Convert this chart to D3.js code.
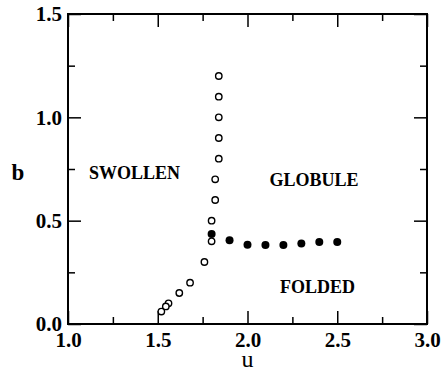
<!DOCTYPE html>
<html>
<head>
<meta charset="utf-8">
<script src="https://cdn.jsdelivr.net/npm/d3@7"></script>
<style>
  body { margin: 0; background: #fff; }
  svg { display: block; }
  text { font-family: "Liberation Serif", "Times New Roman", serif; }
</style>
</head>
<body>
<script>
// open circles: swollen/globule boundary
const openU = [1.84, 1.84, 1.84, 1.84, 1.84, 1.82, 1.82, 1.80, 1.80, 1.76, 1.68, 1.62, 1.56, 1.545, 1.52];
const openB = [1.2, 1.1, 1.0, 0.9, 0.8, 0.7, 0.6, 0.5, 0.4, 0.3, 0.2, 0.15, 0.1, 0.085, 0.06];
// filled circles: globule/folded boundary
const fillU = [1.80, 1.90, 2.00, 2.10, 2.20, 2.30, 2.40, 2.50];
const fillB = [0.435, 0.405, 0.383, 0.382, 0.382, 0.39, 0.397, 0.397];

const xTicks = [1.0, 1.5, 2.0, 2.5, 3.0];
const xMinor = [1.25, 1.75, 2.25, 2.75];
const yTicks = [0.0, 0.5, 1.0, 1.5];
const yMinor = [0.25, 0.75, 1.25];

const regionLabels = ["SWOLLEN", "GLOBULE", "FOLDED"];
const regionU = [1.37, 2.37, 2.39];
const regionB = [0.70, 0.67, 0.152];

const w = 443, h = 372;
const margin = {top: 14, right: 16, bottom: 48, left: 68};
const iw = w - margin.left - margin.right,
      ih = h - margin.top - margin.bottom;

const svg = d3.select("body").append("svg")
  .attr("width", w)
  .attr("height", h);

const x = d3.scaleLinear().domain([1, 3]).range([0, iw]);
const y = d3.scaleLinear().domain([0, 1.5]).range([ih, 0]);

const g = svg.append("g")
  .attr("transform", "translate(" + margin.left + "," + margin.top + ")");

const fmt = d3.format(".1f");

function styleAxis(sel) {
  sel.select(".domain").remove();
  sel.selectAll(".tick line").attr("stroke", "#000").attr("stroke-width", 1.5);
  sel.selectAll(".tick text")
    .attr("fill", "#000")
    .style("font-size", "21px")
    .style("font-weight", "bold");
}

// major ticks with labels
g.append("g").attr("transform", "translate(0," + ih + ")")
  .call(d3.axisBottom(x).tickValues(xTicks).tickSize(-13).tickPadding(8).tickFormat(fmt))
  .call(styleAxis);
g.append("g")
  .call(d3.axisLeft(y).tickValues(yTicks).tickSize(-13).tickPadding(6).tickFormat(fmt))
  .call(styleAxis);
g.append("g")
  .call(d3.axisTop(x).tickValues(xTicks).tickSize(-13).tickFormat(""))
  .call(styleAxis);
g.append("g").attr("transform", "translate(" + iw + ",0)")
  .call(d3.axisRight(y).tickValues(yTicks).tickSize(-13).tickFormat(""))
  .call(styleAxis);

// minor ticks
g.append("g").attr("transform", "translate(0," + ih + ")")
  .call(d3.axisBottom(x).tickValues(xMinor).tickSize(-7).tickFormat(""))
  .call(styleAxis);
g.append("g")
  .call(d3.axisTop(x).tickValues(xMinor).tickSize(-7).tickFormat(""))
  .call(styleAxis);
g.append("g")
  .call(d3.axisLeft(y).tickValues(yMinor).tickSize(-7).tickFormat(""))
  .call(styleAxis);
g.append("g").attr("transform", "translate(" + iw + ",0)")
  .call(d3.axisRight(y).tickValues(yMinor).tickSize(-7).tickFormat(""))
  .call(styleAxis);

// frame
g.append("rect")
  .attr("width", iw)
  .attr("height", ih)
  .attr("fill", "none")
  .attr("stroke", "#000")
  .attr("stroke-width", 2);

// data
g.selectAll(".open")
  .data(openU)
  .enter()
  .append("circle")
  .attr("class", "open")
  .attr("cx", d => x(d))
  .attr("cy", (d, i) => y(openB[i]))
  .attr("r", 3.2)
  .attr("fill", "#fff")
  .attr("stroke", "#000")
  .attr("stroke-width", 1.4);

g.selectAll(".filled")
  .data(fillU)
  .enter()
  .append("circle")
  .attr("class", "filled")
  .attr("cx", d => x(d))
  .attr("cy", (d, i) => y(fillB[i]))
  .attr("r", 4)
  .attr("fill", "#000");

// region labels
g.selectAll(".region")
  .data(regionLabels)
  .enter()
  .append("text")
  .attr("class", "region")
  .attr("x", (d, i) => x(regionU[i]))
  .attr("y", (d, i) => y(regionB[i]))
  .attr("text-anchor", "middle")
  .style("font-size", "18px")
  .style("font-weight", "bold")
  .text(d => d);

// axis titles
svg.append("text")
  .attr("x", margin.left + x(2))
  .attr("y", 367)
  .attr("text-anchor", "middle")
  .style("font-size", "24px")
  .text("u");

svg.append("text")
  .attr("x", 18)
  .attr("y", 180)
  .attr("text-anchor", "middle")
  .style("font-size", "23px")
  .style("font-weight", "bold")
  .text("b");
</script>
</body>
</html>
